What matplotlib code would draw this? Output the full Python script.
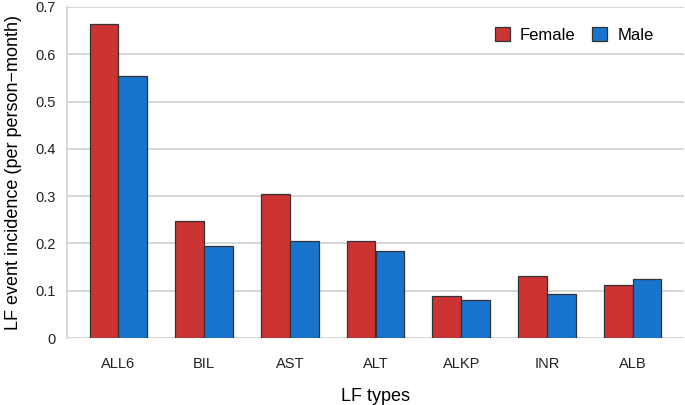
import numpy as np
import matplotlib.pyplot as plt

plt.rcParams['font.family'] = ['Liberation Sans', 'DejaVu Sans']

# LF event incidence per person-month
lf_types = ["ALL6", "BIL", "AST", "ALT", "ALKP", "INR", "ALB"]
female = [0.664, 0.248, 0.304, 0.205, 0.089, 0.132, 0.113]
male = [0.555, 0.194, 0.206, 0.184, 0.081, 0.093, 0.124]

fig = plt.figure(figsize=(6.85, 4.05), dpi=100)
ax = fig.add_axes([67 / 685, 1 - 338 / 405, 617 / 685, 331 / 405])

x = np.arange(len(lf_types))
w = 0.335
ax.bar(x - w / 2, female, w, color="#CC3333", edgecolor="#333333", linewidth=0.9, label="Female", zorder=3)
ax.bar(x + w / 2, male, w, color="#1874CD", edgecolor="#333333", linewidth=0.9, label="Male", zorder=3)

ax.set_xlim(-0.6, 6.6)
ax.set_ylim(0, 0.7)
ax.set_yticks(np.arange(0, 0.71, 0.1))
ax.set_yticklabels(["0", "0.1", "0.2", "0.3", "0.4", "0.5", "0.6", "0.7"])
ax.set_xticks(x)
ax.set_xticklabels(lf_types)
ax.tick_params(axis="both", length=0, labelsize=10.5, colors="#222222")
ax.tick_params(axis="x", pad=14)
ax.tick_params(axis="y", pad=8)
ax.grid(axis="y", color="#d0d0d0", linewidth=1.2, zorder=0)

for s in ["right", "bottom", "top"]:
    ax.spines[s].set_visible(False)
ax.spines["left"].set_color("#d0d0d0")
ax.spines["left"].set_linewidth(1.2)

ax.set_xlabel("LF types", fontsize=13, labelpad=12)
ax.set_ylabel("LF event incidence (per person\u2212month)", fontsize=13, labelpad=10)

ax.legend(loc="upper right", frameon=False, ncol=2, fontsize=12,
          handlelength=0.9, handleheight=0.9, columnspacing=1.0,
          handletextpad=0.6, bbox_to_anchor=(0.975, 0.985))

fig.savefig("out.png", dpi=100)
